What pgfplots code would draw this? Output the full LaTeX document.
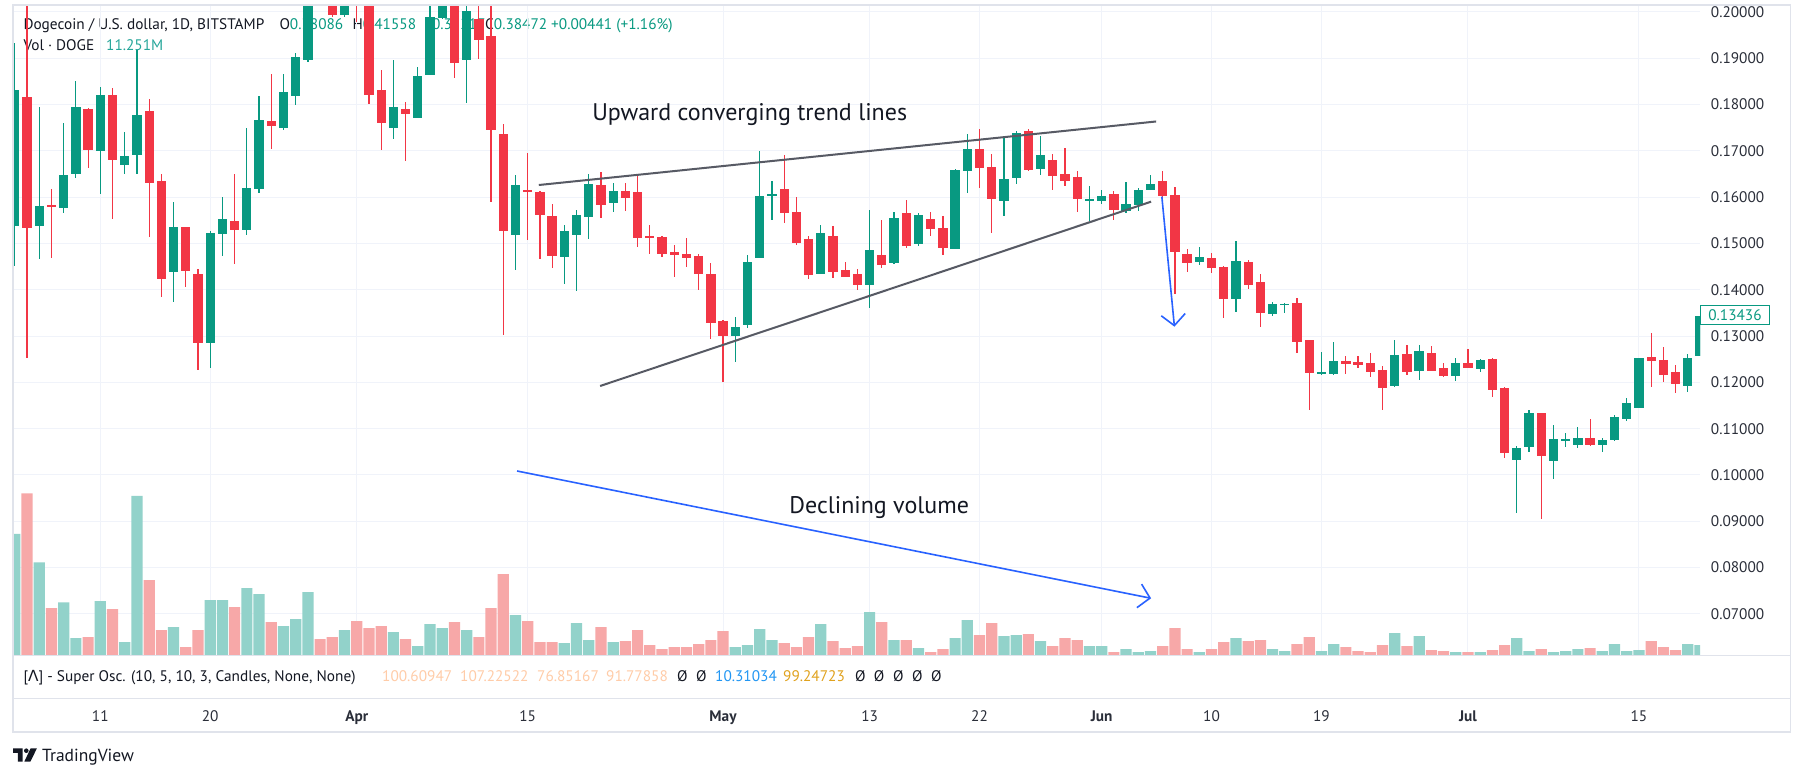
\documentclass[border=0pt]{standalone}
\usepackage{pgfplots}
\pgfplotsset{compat=1.18}
\usepackage{pgfplotstable}
\usepackage{fontspec}
\setmainfont{PT Sans}
\newfontfamily\dejavu{DejaVu Sans}
\usetikzlibrary{arrows.meta}
\definecolor{tvgreen}{HTML}{089981}
\definecolor{tvred}{HTML}{F23645}
\definecolor{volgreen}{HTML}{92D2CA}
\definecolor{volred}{HTML}{F7A8A8}
\definecolor{gridc}{HTML}{F0F3FA}
\definecolor{framec}{HTML}{E0E3EB}
\definecolor{txt}{HTML}{131722}
\definecolor{lbl}{HTML}{2A2E39}
\definecolor{trend}{HTML}{575A64}
\definecolor{tvblue}{HTML}{2962FF}
\definecolor{peach}{HTML}{FFCCA8}
\definecolor{oscblue}{HTML}{2196F3}
\definecolor{oscgold}{HTML}{E0A21E}
\definecolor{volteal}{HTML}{26A69A}

% day index: 0 = 1 April; o h l c
\pgfplotstableread{
d o h l c
-28 0.1538 0.1932 0.1452 0.1831
-26 0.1538 0.1794 0.1466 0.1580
-24 0.1576 0.1760 0.1566 0.1649
-23 0.1649 0.1851 0.1641 0.1794
-21 0.1700 0.1837 0.1607 0.1820
-19 0.1670 0.1740 0.1651 0.1689
-18 0.1691 0.1918 0.1649 0.1777
-15 0.1438 0.1589 0.1373 0.1535
-12 0.1285 0.1528 0.1231 0.1522
-11 0.1520 0.1600 0.1474 0.1552
-9 0.1529 0.1749 0.1518 0.1619
-8 0.1618 0.1818 0.1609 0.1766
-6 0.1750 0.1866 0.1745 0.1827
-5 0.1819 0.1911 0.1799 0.1903
-4 0.1897 0.2060 0.1893 0.2040
-1 0.1994 0.2070 0.1990 0.2045
3 0.1750 0.1896 0.1726 0.1794
5 0.1771 0.1881 0.1771 0.1861
6 0.1864 0.2040 0.1864 0.1989
7 0.1988 0.2050 0.1985 0.2030
9 0.1896 0.2040 0.1803 0.2002
13 0.1518 0.1649 0.1442 0.1626
17 0.1471 0.1539 0.1412 0.1526
18 0.1518 0.1572 0.1397 0.1561
19 0.1557 0.1649 0.1510 0.1628
21 0.1587 0.1630 0.1568 0.1613
31 0.1300 0.1342 0.1243 0.1320
32 0.1323 0.1475 0.1317 0.1461
33 0.1468 0.1700 0.1468 0.1602
34 0.1604 0.1634 0.1551 0.1606
38 0.1434 0.1539 0.1434 0.1522
42 0.1410 0.1572 0.1360 0.1485
44 0.1458 0.1567 0.1455 0.1556
46 0.1499 0.1565 0.1494 0.1561
49 0.1488 0.1660 0.1488 0.1658
50 0.1657 0.1736 0.1609 0.1704
53 0.1592 0.1732 0.1559 0.1639
54 0.1642 0.1743 0.1629 0.1738
56 0.1660 0.1732 0.1647 0.1691
60 0.1594 0.1624 0.1548 0.1595
61 0.1592 0.1615 0.1586 0.1602
63 0.1570 0.1632 0.1565 0.1585
64 0.1583 0.1619 0.1570 0.1615
65 0.1616 0.1647 0.1616 0.1628
69 0.1460 0.1492 0.1453 0.1470
72 0.1381 0.1505 0.1353 0.1462
75 0.1348 0.1373 0.1344 0.1369
76 0.1368 0.1372 0.1350 0.1369
79 0.1219 0.1266 0.1216 0.1222
80 0.1219 0.1287 0.1216 0.1246
85 0.1193 0.1291 0.1191 0.1259
87 0.1225 0.1281 0.1206 0.1268
90 0.1214 0.1253 0.1204 0.1242
92 0.1229 0.1250 0.1223 0.1248
95 0.1033 0.1063 0.0917 0.1058
96 0.1061 0.1140 0.1050 0.1134
98 0.1031 0.1108 0.0992 0.1078
99 0.1075 0.1091 0.1060 0.1076
100 0.1065 0.1104 0.1058 0.1080
102 0.1065 0.1080 0.1050 0.1076
103 0.1076 0.1129 0.1073 0.1125
104 0.1121 0.1166 0.1117 0.1155
105 0.1145 0.1253 0.1145 0.1253
109 0.1193 0.1261 0.1180 0.1253
110 0.1257 0.1344 0.1257 0.1344
}\upcandles

\pgfplotstableread{
d o h l c
-27 0.1816 0.2080 0.1253 0.1533
-25 0.1583 0.1618 0.1468 0.1580
-22 0.1790 0.1792 0.1663 0.1701
-20 0.1820 0.1836 0.1552 0.1680
-17 0.1786 0.1811 0.1513 0.1631
-16 0.1636 0.1651 0.1384 0.1423
-14 0.1535 0.1535 0.1405 0.1440
-13 0.1435 0.1444 0.1227 0.1285
-10 0.1548 0.1651 0.1455 0.1529
-7 0.1764 0.1866 0.1704 0.1754
-3 0.2080 0.2110 0.2030 0.2045
-2 0.2060 0.2090 0.1990 0.1994
0 0.2060 0.2080 0.1978 0.2030
1 0.2030 0.2050 0.1801 0.1820
2 0.1831 0.1874 0.1701 0.1760
4 0.1790 0.1805 0.1678 0.1780
8 0.2035 0.2060 0.1858 0.1890
10 0.1985 0.2030 0.1898 0.1940
11 0.1948 0.2025 0.1590 0.1745
12 0.1736 0.1757 0.1302 0.1527
14 0.1615 0.1695 0.1507 0.1613
15 0.1611 0.1613 0.1466 0.1561
16 0.1559 0.1585 0.1447 0.1473
20 0.1626 0.1654 0.1555 0.1583
22 0.1613 0.1630 0.1570 0.1598
23 0.1611 0.1647 0.1492 0.1512
24 0.1517 0.1541 0.1477 0.1513
25 0.1515 0.1517 0.1471 0.1477
26 0.1481 0.1497 0.1427 0.1475
27 0.1478 0.1512 0.1449 0.1468
28 0.1473 0.1477 0.1399 0.1434
29 0.1434 0.1458 0.1293 0.1328
30 0.1333 0.1335 0.1200 0.1301
35 0.1617 0.1691 0.1544 0.1566
36 0.1569 0.1600 0.1497 0.1501
37 0.1510 0.1517 0.1423 0.1432
39 0.1517 0.1537 0.1425 0.1438
40 0.1442 0.1461 0.1427 0.1427
41 0.1435 0.1445 0.1399 0.1410
43 0.1476 0.1550 0.1447 0.1453
45 0.1565 0.1593 0.1490 0.1494
47 0.1552 0.1569 0.1516 0.1531
48 0.1533 0.1559 0.1475 0.1490
51 0.1704 0.1747 0.1620 0.1663
52 0.1665 0.1693 0.1523 0.1596
55 0.1743 0.1747 0.1656 0.1658
57 0.1680 0.1693 0.1615 0.1645
58 0.1649 0.1706 0.1624 0.1634
59 0.1643 0.1656 0.1568 0.1596
62 0.1607 0.1613 0.1550 0.1572
66 0.1635 0.1656 0.1591 0.1602
67 0.1604 0.1622 0.1391 0.1482
68 0.1477 0.1488 0.1439 0.1458
70 0.1468 0.1479 0.1437 0.1447
71 0.1449 0.1451 0.1340 0.1381
73 0.1460 0.1464 0.1402 0.1411
74 0.1417 0.1434 0.1320 0.1350
77 0.1371 0.1382 0.1264 0.1288
78 0.1291 0.1291 0.1141 0.1221
81 0.1246 0.1257 0.1219 0.1240
82 0.1244 0.1257 0.1232 0.1238
83 0.1242 0.1263 0.1212 0.1223
84 0.1227 0.1235 0.1141 0.1188
86 0.1261 0.1281 0.1217 0.1223
88 0.1263 0.1278 0.1225 0.1225
89 0.1231 0.1242 0.1212 0.1214
91 0.1242 0.1272 0.1231 0.1231
93 0.1250 0.1253 0.1169 0.1184
94 0.1188 0.1190 0.1037 0.1048
97 0.1134 0.1134 0.0906 0.1040
101 0.1080 0.1121 0.1063 0.1065
106 0.1255 0.1306 0.1190 0.1246
107 0.1248 0.1276 0.1201 0.1217
108 0.1222 0.1237 0.1176 0.1197
}\downcandles

% volume (relative units)
\pgfplotstableread{
d v
-28 121
-26 92.7
-24 52.7
-23 17
-21 54
-19 13
-18 159
-15 28
-12 55
-11 55
-9 67
-8 61
-6 29
-5 36
-4 63
-1 25
3 23
5 9
6 31
7 27
9 25
13 40
17 12
18 32
19 15
21 13
31 8
32 10
33 26
34 15
38 31
42 43
44 15
46 7
49 17
50 35
53 19
54 20
56 14
60 9
61 9
63 6
64 3
65 4
69 3
72 17
75 6
76 4
79 4
80 11
85 22
87 19
90 3
92 3
95 17
96 4
98 3
99 4
100 6
102 4
103 11
104 4
105 5
109 11
110 10
}\upvol

\pgfplotstableread{
d v
-27 161.7
-25 47
-22 18
-20 46
-17 75
-16 25
-14 8
-13 25
-10 48
-7 33
-3 16
-2 18
0 34
1 27
2 29
4 16
8 33
10 18
11 47
12 81
14 34
15 13
16 13
20 28
22 14
23 25
24 10
25 6
26 8
27 8
28 11
29 15
30 24
35 12
36 8
37 18
39 14
40 7
41 9
43 33
45 15
47 3
48 6
51 20
52 32
55 21
57 9
58 17
59 15
62 3
66 9
67 27
68 6
70 6
71 13
73 14
74 15
77 11
78 18
81 8
82 4
83 3
84 10
86 9
88 5
89 4
91 3
93 5
94 10
97 6
101 7
106 14
107 8
108 5
}\downvol

\newcommand{\sm}{\fontsize{15.3}{18}\selectfont}

\begin{document}
\begin{tikzpicture}[x=1pt,y=1pt]
\useasboundingbox (0,0) rectangle (1804,777);
\fill[white] (0,0) rectangle (1804,777);

% legend (drawn first: candles overlay it)
\begin{scope}[every node/.style={anchor=base west, inner sep=0pt, font=\sm}]
\node[text=txt] at (23.3,747) {Dogecoin / U.S. dollar, 1D, BITSTAMP};
\node[text=txt] at (279.3,747) {O\textcolor{tvgreen}{0.38086}};
\node[text=txt] at (352.3,747) {H\textcolor{tvgreen}{0.41558}};
\node[text=txt] at (424,747) {L\textcolor{tvgreen}{0.35217}};
\node[text=txt] at (485,747) {C\textcolor{tvgreen}{0.38472}};
\node[text=tvgreen] at (551,747) {+0.00441 (+1.16\%)};
\node[text=txt] at (23.3,726) {Vol · DOGE};
\node[text=volteal] at (106,726) {11.251M};
\end{scope}

\begin{axis}[
  at={(13pt,122pt)}, anchor=south west,
  width=1687pt, height=650pt, scale only axis,
  xmin=-28.15, xmax=110, ymin=0.06112, ymax=0.20151,
  axis line style={draw=none}, tick style={draw=none}, major tick length=0pt,
  xtick={-21,-12,0,14,30,42,51,61,70,79,91,105},
  xticklabels={11,20,\textbf{Apr},15,\textbf{May},13,22,\textbf{Jun},10,19,\textbf{Jul},15},
  ytick={0.07,0.08,0.09,0.10,0.11,0.12,0.13,0.14,0.15,0.16,0.17,0.18,0.19,0.20},
  yticklabels={0.07000,0.08000,0.09000,0.10000,0.11000,0.12000,0.13000,0.14000,0.15000,0.16000,0.17000,0.18000,0.19000,0.20000},
  yticklabel pos=right,
  xmajorgrids, ymajorgrids, grid style={draw=gridc, line width=1pt},
  xticklabel style={font=\sm, text=lbl, anchor=base, yshift=-66pt},
  yticklabel style={font=\sm, text=lbl, anchor=west, xshift=7.4pt},
]
% wicks
\addplot[draw=none, mark=none, forget plot, error bars/.cd, y dir=both, y explicit, error mark=none,
  error bar style={draw=tvgreen, line width=1.2pt}]
  table[x=d, y expr={(\thisrow{h}+\thisrow{l})/2}, y error expr={(\thisrow{h}-\thisrow{l})/2}] {\upcandles};
\addplot[draw=none, mark=none, forget plot, error bars/.cd, y dir=both, y explicit, error mark=none,
  error bar style={draw=tvred, line width=1.2pt}]
  table[x=d, y expr={(\thisrow{h}+\thisrow{l})/2}, y error expr={(\thisrow{h}-\thisrow{l})/2}] {\downcandles};
% bodies
\addplot[draw=none, mark=none, forget plot, error bars/.cd, y dir=both, y explicit, error mark=none,
  error bar style={draw=tvgreen, line width=9.3pt}]
  table[x=d, y expr={(\thisrow{o}+\thisrow{c})/2}, y error expr={max(abs(\thisrow{c}-\thisrow{o})/2,0.00012)}] {\upcandles};
\addplot[draw=none, mark=none, forget plot, error bars/.cd, y dir=both, y explicit, error mark=none,
  error bar style={draw=tvred, line width=9.3pt}]
  table[x=d, y expr={(\thisrow{o}+\thisrow{c})/2}, y error expr={max(abs(\thisrow{c}-\thisrow{o})/2,0.00012)}] {\downcandles};

% trend lines
\draw[trend, line width=2pt] (axis cs:14.91,0.16263) -- (axis cs:65.46,0.17635);
\draw[trend, line width=2pt] (axis cs:19.93,0.11922) -- (axis cs:65.05,0.15903);
% arrows
\draw[tvblue, line width=1.6pt, -{Straight Barb[length=11pt,width=24pt]}] (axis cs:65.93,0.16011) -- (axis cs:66.96,0.13203);
\draw[tvblue, line width=1.6pt, -{Straight Barb[length=11pt,width=24pt]}] (axis cs:13.13,0.10086) -- (axis cs:65.05,0.07337);
% annotations
\node[anchor=base west, inner sep=0pt, text=txt, font=\fontsize{24}{28}\selectfont] at (axis cs:19.27,0.17646) {Upward converging trend lines};
\node[anchor=base west, inner sep=0pt, text=txt, font=\fontsize{24}{28}\selectfont] at (axis cs:35.41,0.09173) {Declining volume};
\end{axis}

% volume pane overlay
\begin{axis}[
  at={(13pt,122pt)}, anchor=south west,
  width=1687pt, height=650pt, scale only axis,
  xmin=-28.15, xmax=110, ymin=0, ymax=650,
  hide axis, ybar, bar width=11.2pt, bar shift=0pt,
]
\addplot[fill=volgreen, draw=none] table[x=d, y=v] {\upvol};
\addplot[fill=volred, draw=none] table[x=d, y=v] {\downvol};
\end{axis}

% last price marker
\draw[tvgreen, fill=white, line width=1pt] (1700.5,471.5) rectangle (1769.5,452);
\node[text=tvgreen, font=\sm, inner sep=0pt] at (1735,461.7) {0.13436};

% panes and frame
\draw[framec, line width=1pt] (13,122) -- (1790.5,122);
\draw[framec, line width=1pt] (13,79) -- (1790.5,79);
\draw[framec, line width=1.2pt] (13,772) rectangle (1790.5,45);

% oscillator legend
\begin{scope}[every node/.style={anchor=base west, inner sep=0pt, font=\sm}]
\node[text=txt] at (23.3,96) {[{\dejavu Λ}] - Super Osc. (10, 5, 10, 3, Candles, None, None)};
\node[text=peach] at (382,96) {100.60947};
\node[text=peach] at (460,96) {107.22522};
\node[text=peach] at (537,96) {76.85167};
\node[text=peach] at (606,96) {91.77858};
\node[text=txt] at (677,96) {Ø};
\node[text=txt] at (696,96) {Ø};
\node[text=oscblue] at (715,96) {10.31034};
\node[text=oscgold] at (783,96) {99.24723};
\node[text=txt] at (855,96) {Ø};
\node[text=txt] at (873.6,96) {Ø};
\node[text=txt] at (893,96) {Ø};
\node[text=txt] at (912,96) {Ø};
\node[text=txt] at (931,96) {Ø};
\end{scope}

% TradingView logo
\fill[txt] (13.2,28.7) -- (22.5,28.7) -- (22.5,15.3) -- (17.8,15.3) -- (17.8,24.2) -- (13.2,24.2) -- cycle;
\fill[txt] (26.3,26.3) circle (2.3);
\fill[txt] (30.6,28.7) -- (36.9,28.7) -- (30.4,15.3) -- (24.3,15.3) -- cycle;
\node[anchor=base west, inner sep=0pt, text=txt, font=\fontsize{17.5}{20}\selectfont] at (42,15.3) {TradingView};
\end{tikzpicture}
\end{document}
